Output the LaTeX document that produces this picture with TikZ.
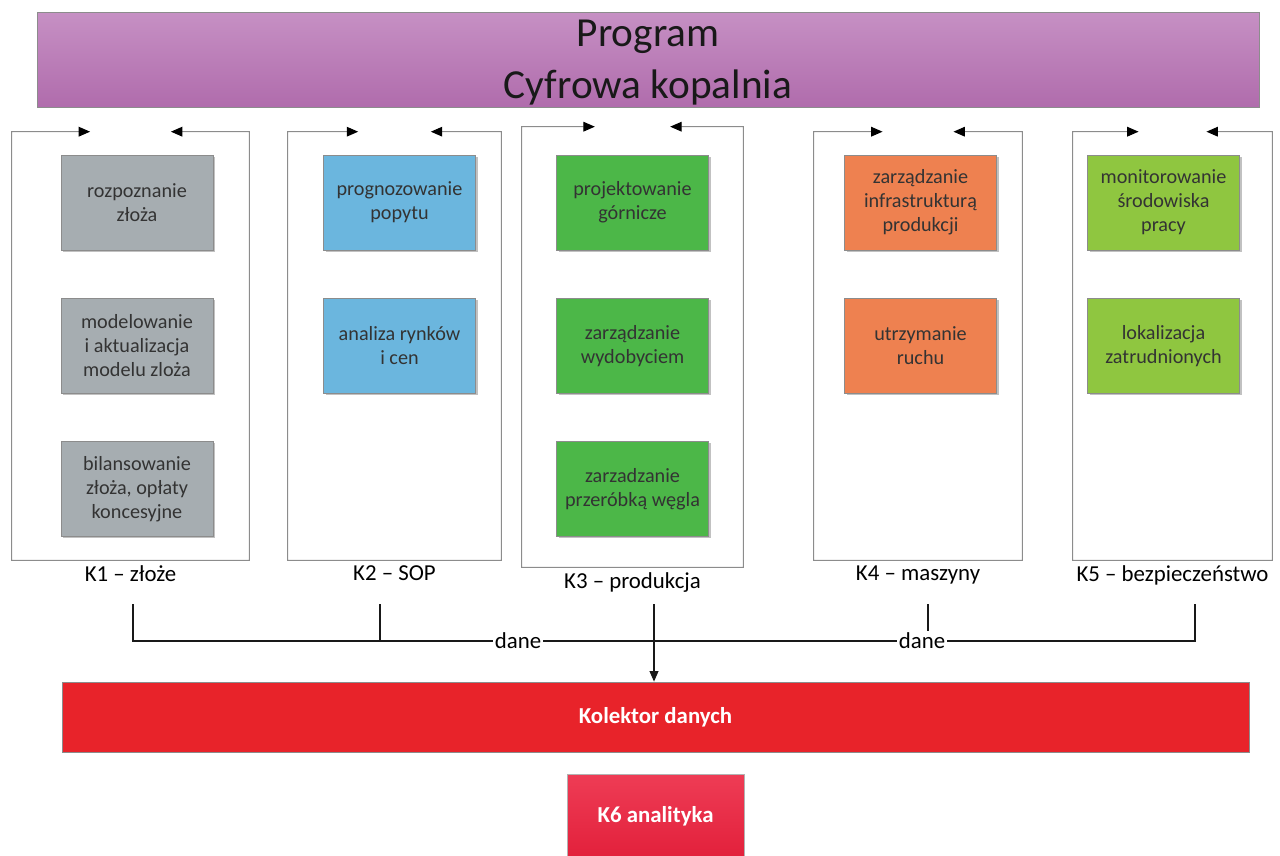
\documentclass[tikz,border=0pt]{standalone}
\usepackage{fontspec}
\setmainfont{Carlito}
\usetikzlibrary{positioning,calc,arrows.meta,shadows}

\definecolor{progtop}{HTML}{C690C4}
\definecolor{progbot}{HTML}{B06CAC}
\definecolor{grayfill}{HTML}{A6ADB1}
\definecolor{bluefill}{HTML}{6BB6DE}
\definecolor{greenfill}{HTML}{4CB748}
\definecolor{orangefill}{HTML}{EE8150}
\definecolor{limefill}{HTML}{8FC640}
\definecolor{kolred}{HTML}{E8232A}
\definecolor{anatop}{HTML}{EE3C55}
\definecolor{anabot}{HTML}{E2203B}

\tikzset{
  banner/.style={draw=black!45, top color=progtop, bottom color=progbot,
    minimum width=24.44cm, minimum height=1.9cm, align=center, text depth=0pt,
    font=\fontsize{23.5}{29.5}\selectfont, text=black!90},
  task/.style={draw=black!45, minimum width=3.04cm, minimum height=1.9cm,
    align=center, font=\fontsize{11.5}{13.6}\selectfont, text=black!80,
    drop shadow={shadow xshift=1.2pt, shadow yshift=-1.2pt, fill=black!35, opacity=0.7}},
  colframe/.style={minimum height=8.56cm, inner sep=0pt},
  frameline/.style={draw=black!45, line width=0.6pt,
    {Triangle[length=6.5pt,width=5.5pt,color=black]}-{Triangle[length=6.5pt,width=5.5pt,color=black]}},
  collabel/.style={font=\fontsize{13}{15}\selectfont, inner sep=1pt},
  bus/.style={draw=black!90, line width=0.8pt},
  danelabel/.style={fill=white, font=\fontsize{13}{15}\selectfont, inner sep=1pt},
  collector/.style={draw=black!45, fill=kolred, minimum width=23.74cm, minimum height=1.4cm,
    text=white, font=\fontsize{13}{15}\selectfont\bfseries},
  analytics/.style={draw=black!30, top color=anatop, bottom color=anabot,
    minimum width=3.54cm, minimum height=1.68cm,
    text=white, font=\fontsize{13}{15}\selectfont\bfseries}
}

\begin{document}
\begin{tikzpicture}[x=0.02cm,y=-0.02cm]
\useasboundingbox (0,0) rectangle (1280,855);

\node[banner] (prog) at (648,59.5) {Program\\Cyfrowa kopalnia};

% kolumny
\node[colframe,minimum width=4.74cm] (c1) at (130.5,346) {};
\node[colframe,minimum width=4.26cm] (c2) at (394.5,346) {};
\node[colframe,minimum width=4.42cm,minimum height=8.8cm] (c3) at (632.5,347) {};
\node[colframe,minimum width=4.16cm] (c4) at (918,346) {};
\node[colframe,minimum width=3.98cm] (c5) at (1172.5,346) {};

\foreach \c in {c1,c2,c3,c4,c5}
  \draw[frameline] ($(\c.north west)!0.33!(\c.north east)$) -- (\c.north west)
    -- (\c.south west) -- (\c.south east) -- (\c.north east)
    -- ($(\c.north west)!0.67!(\c.north east)$);

\node[collabel,below=2pt of c1] (l1) {K1 – złoże};
\node[collabel,below=2pt of c2] (l2) {K2 – SOP};
\node[collabel,below=2pt of c3] (l3) {K3 – produkcja};
\node[collabel,below=2pt of c4] (l4) {K4 – maszyny};
\node[collabel,below=2pt of c5] (l5) {K5 – bezpieczeństwo};

% K1
\node[task,fill=grayfill] (z1) at (137,202.5) {rozpoznanie\\złoża};
\node[task,fill=grayfill,below=0.95cm of z1] (z2) {modelowanie\\i aktualizacja\\modelu zloża};
\node[task,fill=grayfill,below=0.95cm of z2] (z3) {bilansowanie\\złoża, opłaty\\koncesyjne};
% K2
\node[task,fill=bluefill] (s1) at (399.5,202.5) {prognozowanie\\popytu};
\node[task,fill=bluefill,below=0.95cm of s1] (s2) {analiza rynków\\i cen};
% K3
\node[task,fill=greenfill] (p1) at (632.5,202.5) {projektowanie\\górnicze};
\node[task,fill=greenfill,below=0.95cm of p1] (p2) {zarządzanie\\wydobyciem};
\node[task,fill=greenfill,below=0.95cm of p2] (p3) {zarzadzanie\\przeróbką węgla};
% K4
\node[task,fill=orangefill] (m1) at (920.5,202.5) {zarządzanie\\infrastrukturą\\produkcji};
\node[task,fill=orangefill,below=0.95cm of m1] (m2) {utrzymanie\\ruchu};
% K5
\node[task,fill=limefill] (b1) at (1163.5,202.5) {monitorowanie\\środowiska\\pracy};
\node[task,fill=limefill,below=0.95cm of b1] (b2) {lokalizacja\\zatrudnionych};

% dane
\node[collector] (kol) at (655.5,717) {Kolektor danych};
\node[analytics,below=0.44cm of kol] (k6) {K6 analityka};

\coordinate (d1) at (133,604);
\coordinate (d2) at (380,604);
\coordinate (d3) at (654,604);
\coordinate (d4) at (928,604);
\coordinate (d5) at (1195,604);
\coordinate (bus1) at (133,641);
\coordinate (bus5) at (1195,641);

\draw[bus] (d1) -- (bus1) -- (bus5) -- (d5);
\draw[bus] (d2) -- (d2 |- bus1);
\draw[bus] (d4) -- (d4 |- bus1);
\draw[bus,-{Triangle[length=6pt,width=5pt]}] (d3) -- (d3 |- kol.north);

\node[danelabel] (dn1) at (518,641) {dane};
\node[danelabel] (dn2) at (922,641) {dane};
\end{tikzpicture}
\end{document}
